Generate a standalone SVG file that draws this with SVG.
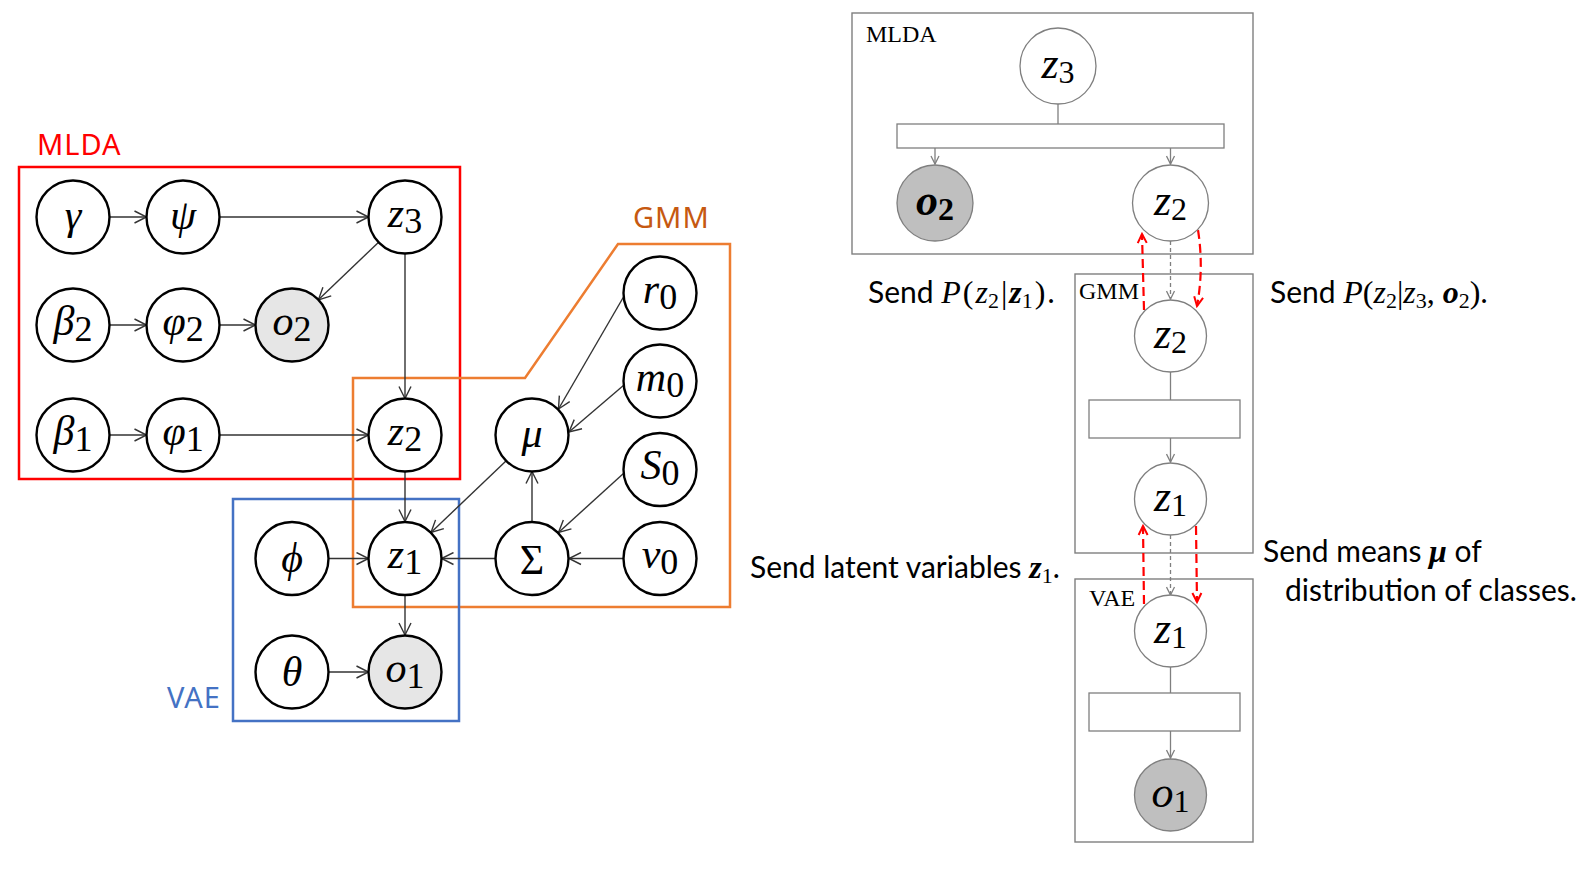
<svg xmlns="http://www.w3.org/2000/svg" width="1587" height="869" viewBox="0 0 1587 869">
<style>
.nd{fill:#fff;stroke:#000;stroke-width:2.4}
.ndg{fill:#e6e6e6;stroke:#000;stroke-width:2.4}
.e{fill:none;stroke:#333;stroke-width:1.4;marker-end:url(#ah)}
.lbl{font-family:"Liberation Serif",serif;font-size:42px;text-anchor:middle;fill:#000}
.it{font-style:italic}
.sb{font-size:36px;font-style:normal}
.rn{fill:#fff;stroke:#7f7f7f;stroke-width:1.3}
.rng{fill:#bfbfbf;stroke:#7f7f7f;stroke-width:1.3}
.rb{fill:none;stroke:#7f7f7f;stroke-width:1.4}
.rr{fill:#fff;stroke:#7f7f7f;stroke-width:1.3}
.rl{fill:none;stroke:#7f7f7f;stroke-width:1.3}
.ra{fill:none;stroke:#7f7f7f;stroke-width:1.3;marker-end:url(#ahg)}
.gd{fill:none;stroke:#7f7f7f;stroke-width:1.3;stroke-dasharray:4 3;marker-end:url(#ahg)}
.red{fill:none;stroke:#ff0000;stroke-width:2.2;stroke-dasharray:9 5;marker-end:url(#ahr)}
.rlbl{font-family:"Liberation Serif",serif;font-size:44px;text-anchor:middle;fill:#000}
.rsb{font-size:32px;font-style:normal}
.bt{font-family:"Liberation Serif",serif;font-size:24px;fill:#000}
.sans{font-family:Lato,"Liberation Sans",sans-serif;font-size:30px;fill:#000}
.m{font-family:"Liberation Serif",serif;font-style:italic;font-size:32px}
.mr{font-family:"Liberation Serif",serif;font-style:normal;font-size:32px}
.mb{font-family:"Liberation Serif",serif;font-style:italic;font-weight:bold;font-size:32px}
.ms{font-family:"Liberation Serif",serif;font-style:normal;font-size:22px}
.grp{font-family:"Noto Sans","Liberation Sans",sans-serif;font-size:29px;letter-spacing:1px}
</style>
<defs>
<marker id="ah" markerWidth="16" markerHeight="14" refX="13" refY="7" orient="auto" markerUnits="userSpaceOnUse">
<path d="M1,1 L13,7 L1,13" fill="none" stroke="#333" stroke-width="1.4"/>
</marker>
<marker id="ahg" markerWidth="12" markerHeight="10" refX="9" refY="5" orient="auto" markerUnits="userSpaceOnUse">
<path d="M1,1 L9,5 L1,9" fill="none" stroke="#7f7f7f" stroke-width="1.3"/>
</marker>
<marker id="ahr" markerWidth="12" markerHeight="12" refX="10" refY="6" orient="auto" markerUnits="userSpaceOnUse">
<path d="M1,1.5 L10,6 L1,10.5" fill="none" stroke="#ff0000" stroke-width="2"/>
</marker>
</defs>
<rect width="1587" height="869" fill="#fff"/>

<!-- Left: plate boxes -->
<g id="plates">
<rect x="19" y="167" width="441" height="312" fill="none" stroke="#ff0000" stroke-width="2.5"/>
<polygon points="353,378 525,378 618,244 730,244 730,607 353,607" fill="none" stroke="#ed7d31" stroke-width="2.5"/>
<rect x="233" y="499" width="226" height="222" fill="none" stroke="#4472c4" stroke-width="2.5"/>
<text class="grp" x="37" y="155" fill="#ff0000">MLDA</text>
<text class="grp" x="633" y="228" fill="#c65911">GMM</text>
<text class="grp" x="167" y="708" fill="#4472c4">VAE</text>
</g>

<g id="edges-left">
<path class="e" d="M109.5,217 L146.5,217"/>
<path class="e" d="M219.5,217 L368.5,217"/>
<path class="e" d="M378.6,242.2 L318.4,299.8"/>
<path class="e" d="M405,253.5 L405,398.5"/>
<path class="e" d="M109.5,325 L146.5,325"/>
<path class="e" d="M219.5,325 L255.5,325"/>
<path class="e" d="M109.5,435 L146.5,435"/>
<path class="e" d="M219.5,435 L368.5,435"/>
<path class="e" d="M405,471.5 L405,521.5"/>
<path class="e" d="M623.5,297 L558.5,409"/>
<path class="e" d="M624,385 L569,432"/>
<path class="e" d="M506.5,460.5 L431,532.5"/>
<path class="e" d="M624,473 L558.5,532.5"/>
<path class="e" d="M623.5,558.5 L569,558.5"/>
<path class="e" d="M532,522 L532,471.5"/>
<path class="e" d="M495.5,558.5 L441.5,558.5"/>
<path class="e" d="M328.5,558.5 L368.5,558.5"/>
<path class="e" d="M405,595 L405,635"/>
<path class="e" d="M328.5,672 L368.5,672"/>
</g>

<g id="n-gamma"><circle class="nd" cx="73" cy="217" r="36.5"/><text class="lbl it" x="73" y="229">γ</text></g>
<g id="n-psi"><circle class="nd" cx="183" cy="217" r="36.5"/><text class="lbl it" x="183" y="229">ψ</text></g>
<g id="n-z3"><circle class="nd" cx="405" cy="217" r="36.5"/><text class="lbl" x="405" y="227"><tspan class="it">z</tspan><tspan class="sb" dy="6">3</tspan></text></g>
<g id="n-beta2"><circle class="nd" cx="73" cy="325" r="36.5"/><text class="lbl" x="73" y="335"><tspan class="it">β</tspan><tspan class="sb" dy="6">2</tspan></text></g>
<g id="n-varphi2"><circle class="nd" cx="183" cy="325" r="36.5"/><text class="lbl" x="183" y="335"><tspan class="it">φ</tspan><tspan class="sb" dy="6">2</tspan></text></g>
<g id="n-o2"><circle class="ndg" cx="292" cy="325" r="36.5"/><text class="lbl" x="292" y="335"><tspan class="it">o</tspan><tspan class="sb" dy="6">2</tspan></text></g>
<g id="n-beta1"><circle class="nd" cx="73" cy="435" r="36.5"/><text class="lbl" x="73" y="445"><tspan class="it">β</tspan><tspan class="sb" dy="6">1</tspan></text></g>
<g id="n-varphi1"><circle class="nd" cx="183" cy="435" r="36.5"/><text class="lbl" x="183" y="445"><tspan class="it">φ</tspan><tspan class="sb" dy="6">1</tspan></text></g>
<g id="n-z2"><circle class="nd" cx="405" cy="435" r="36.5"/><text class="lbl" x="405" y="445"><tspan class="it">z</tspan><tspan class="sb" dy="6">2</tspan></text></g>
<g id="n-mu"><circle class="nd" cx="532" cy="435" r="36.5"/><text class="lbl it" x="532" y="447" font-size="48">μ</text></g>
<g id="n-r0"><circle class="nd" cx="660" cy="293" r="36.5"/><text class="lbl" x="660" y="303"><tspan class="it">r</tspan><tspan class="sb" dy="6">0</tspan></text></g>
<g id="n-m0"><circle class="nd" cx="660" cy="381" r="36.5"/><text class="lbl" x="660" y="391"><tspan class="it">m</tspan><tspan class="sb" dy="6">0</tspan></text></g>
<g id="n-S0"><circle class="nd" cx="660" cy="469.5" r="36.5"/><text class="lbl" x="660" y="479"><tspan class="it">S</tspan><tspan class="sb" dy="6">0</tspan></text></g>
<g id="n-nu0"><circle class="nd" cx="660" cy="558.5" r="36.5"/><text class="lbl" x="660" y="568"><tspan class="it">ν</tspan><tspan class="sb" dy="6">0</tspan></text></g>
<g id="n-phi"><circle class="nd" cx="292" cy="558.5" r="36.5"/><text class="lbl it" x="292" y="572">ϕ</text></g>
<g id="n-z1"><circle class="nd" cx="405" cy="558.5" r="36.5"/><text class="lbl" x="405" y="568"><tspan class="it">z</tspan><tspan class="sb" dy="6">1</tspan></text></g>
<g id="n-Sigma"><circle class="nd" cx="532" cy="558.5" r="36.5"/><text class="lbl" x="532" y="574" font-size="46">Σ</text></g>
<g id="n-theta"><circle class="nd" cx="292" cy="672" r="36.5"/><text class="lbl it" x="292" y="686">θ</text></g>
<g id="n-o1"><circle class="ndg" cx="405" cy="672" r="36.5"/><text class="lbl" x="405" y="682"><tspan class="it">o</tspan><tspan class="sb" dy="6">1</tspan></text></g>

<!-- Right side -->
<g id="box-mlda">
<rect class="rb" x="852" y="13" width="401" height="241"/>
<text class="bt" x="866" y="42">MLDA</text>
<rect class="rr" x="897" y="124" width="327" height="24"/>
</g>
<g id="box-gmm">
<rect class="rb" x="1075" y="274" width="178" height="279"/>
<text class="bt" x="1079" y="299">GMM</text>
<rect class="rr" x="1089" y="400" width="151" height="38"/>
</g>
<g id="box-vae">
<rect class="rb" x="1075" y="579" width="178" height="263"/>
<text class="bt" x="1089" y="606">VAE</text>
<rect class="rr" x="1089" y="693" width="151" height="38"/>
</g>

<g id="edges-right">
<path class="rl" d="M1058,104 L1058,124"/>
<path class="ra" d="M935,148 L935,164"/>
<path class="ra" d="M1170.5,148 L1170.5,164"/>
<path class="rl" d="M1170.5,372 L1170.5,400"/>
<path class="ra" d="M1170.5,438 L1170.5,462"/>
<path class="rl" d="M1170.5,667 L1170.5,693"/>
<path class="ra" d="M1170.5,731 L1170.5,758"/>
<path class="gd" d="M1170.5,241 L1170.5,299"/>
<path class="gd" d="M1170.5,535 L1170.5,595"/>
<path class="red" d="M1144,310 L1142,234"/>
<path class="red" d="M1198,230 Q1204,268 1197,306"/>
<path class="red" d="M1144,604 L1143,526"/>
<path class="red" d="M1196,526 L1197,602"/>
</g>

<g id="r-z3"><circle class="rn" cx="1058" cy="66" r="38"/><text class="rlbl" x="1058" y="78"><tspan class="it">z</tspan><tspan class="rsb" dy="5">3</tspan></text></g>
<g id="r-o2"><circle class="rng" cx="935" cy="203" r="38"/><text class="rlbl" x="935" y="215" font-weight="bold"><tspan class="it">o</tspan><tspan class="rsb" dy="5">2</tspan></text></g>
<g id="r-z2a"><circle class="rn" cx="1170.5" cy="203" r="38"/><text class="rlbl" x="1170.5" y="215"><tspan class="it">z</tspan><tspan class="rsb" dy="5">2</tspan></text></g>
<g id="r-z2b"><circle class="rn" cx="1170.5" cy="336" r="36"/><text class="rlbl" x="1170.5" y="348"><tspan class="it">z</tspan><tspan class="rsb" dy="5">2</tspan></text></g>
<g id="r-z1a"><circle class="rn" cx="1170.5" cy="499" r="36"/><text class="rlbl" x="1170.5" y="511"><tspan class="it">z</tspan><tspan class="rsb" dy="5">1</tspan></text></g>
<g id="r-z1b"><circle class="rn" cx="1170.5" cy="631" r="36"/><text class="rlbl" x="1170.5" y="643"><tspan class="it">z</tspan><tspan class="rsb" dy="5">1</tspan></text></g>
<g id="r-o1"><circle class="rng" cx="1170.5" cy="795" r="36"/><text class="rlbl" x="1170.5" y="807"><tspan class="it">o</tspan><tspan class="rsb" dy="5">1</tspan></text></g>

<g id="notes">
<text class="sans" x="868" y="303">Send <tspan class="m">P</tspan><tspan class="mr" dx="2">(</tspan><tspan class="m" dx="2">z</tspan><tspan class="ms" dy="5">2</tspan><tspan class="mr" dx="2" dy="-5">|</tspan><tspan class="mb" dx="2">z</tspan><tspan class="ms" dy="5">1</tspan><tspan class="mr" dx="2" dy="-5">)</tspan><tspan dx="2">.</tspan></text>
<text class="sans" x="1270" y="303">Send <tspan class="m">P</tspan><tspan class="mr">(</tspan><tspan class="m">z</tspan><tspan class="ms" dy="5">2</tspan><tspan class="mr" dy="-5">|</tspan><tspan class="m">z</tspan><tspan class="ms" dy="5">3</tspan><tspan class="mr" dy="-5">, </tspan><tspan class="mb">o</tspan><tspan class="ms" dy="5">2</tspan><tspan class="mr" dy="-5">)</tspan>.</text>
<text class="sans" x="750" y="578">Send latent variables <tspan class="mb">z</tspan><tspan class="ms" dy="5">1</tspan><tspan dy="-5">.</tspan></text>
<text class="sans" x="1263" y="562">Send means <tspan class="mb">μ</tspan> of</text>
<text class="sans" x="1285" y="601">distribution of classes.</text>
</g>
</svg>
